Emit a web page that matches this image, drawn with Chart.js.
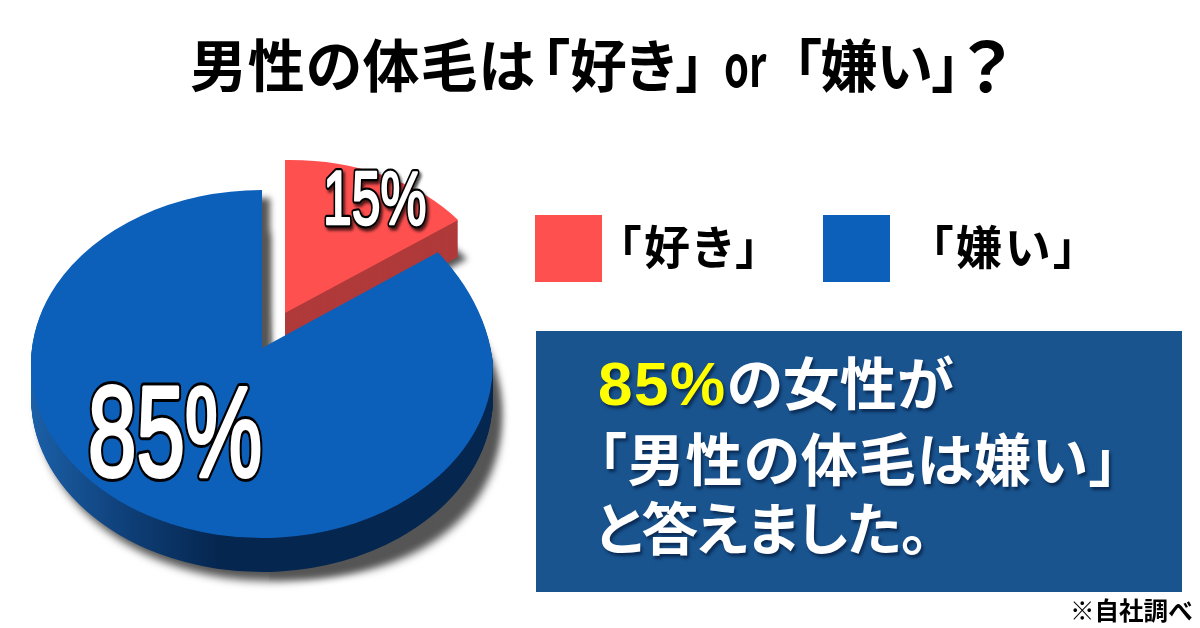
<!DOCTYPE html>
<html lang="ja">
<head>
<meta charset="utf-8">
<title>男性の体毛</title>
<script src="https://cdn.jsdelivr.net/npm/chart.js@4"></script>
<style>
  html, body { margin: 0; padding: 0; background: #fff; }
  #wrap { position: relative; width: 1200px; height: 628px; overflow: hidden;
          font-family: "Noto Sans CJK JP", sans-serif; font-feature-settings: "palt"; }
  #pie { position: absolute; left: 0; top: 0; }
  .t { position: absolute; white-space: nowrap; margin: 0; line-height: 1; }
  #title { left: 190px; top: 34px; font-size: 57px; font-weight: 700; color: #000; }
  #title span { display: inline-block; }
  .swatch { position: absolute; top: 215px; width: 67px; height: 67px; }
  .leg { top: 221px; font-size: 46px; font-weight: 700; color: #000; letter-spacing: 3px; }
  #panel { position: absolute; left: 536px; top: 331px; width: 646px; height: 261px; background: #19548f; }
  .line { font-size: 57px; font-weight: 700; color: #fff; text-shadow: 2px 3px 3px #0b2c55; }
  .line b { font: 700 62px "Liberation Sans", sans-serif; color: #ff0; letter-spacing: 1.5px; }
  #note { left: 1070px; top: 598px; font-size: 24.5px; font-weight: 700; color: #000; }
</style>
</head>
<body>
<div id="wrap">
  <canvas id="pie" width="1200" height="628"></canvas>
  <h1 class="t" id="title"><span style="letter-spacing:.8px">男性の体毛は</span><span style="margin-left:6px">「好き」</span><span style="margin-left:20px;margin-right:-4px;transform:scaleX(.7);transform-origin:left center">or</span><span style="margin-left:12px;letter-spacing:-1px">「嫌い」</span><span style="margin-left:4px;transform:scale(1.2);transform-origin:left center">？</span></h1>
  <div class="swatch" style="left:535px;background:#ff5050"></div>
  <div class="t leg" style="left:618px">「好き」</div>
  <div class="swatch" style="left:823px;background:#0d60ba"></div>
  <div class="t leg" style="left:930px">「嫌い」</div>
  <div id="panel"></div>
  <div class="t line" style="left:598px;top:348px"><b>85%</b>の女性が</div>
  <div class="t line" style="left:598px;top:428px;letter-spacing:1px">「男性の体毛は嫌い」</div>
  <div class="t line" style="left:595px;top:497px;letter-spacing:-1px">と答えました。</div>
  <div class="t" id="note">※自社調べ</div>
</div>
<script>
(function(){
    const labels = ['「好き」', '「嫌い」'];
    const shares = [15, 85];
    const topColors = ['#ff5050', '#0d60ba'];

    // hand-fitted transforms for the tilted look: x = a*sin + c*cos, y = b*sin - d*cos
    const redFace = { x: 285, y: 313, a: 214, b: -3.7, c: 0, d: 153 };
    const blueMain = { x: 262, y: 364, a: 231, b: 0, c: 0, d: 174 };
    const blueRight = { x: 262, y: 348, a: 231, b: 16, c: -18.7, d: 185 };
    const redDepth = 37;
    const blueDepth = 34;

    function place(ctx, arc, face, dx, dy){
        const r = arc.outerRadius;
        ctx.translate(face.x + dx, face.y + dy);
        ctx.transform(face.a / r, face.b / r, -face.c / r, face.d / r, 0, 0);
        ctx.translate(-arc.x, -arc.y);
    }

    function paint(ctx, arc, face, dx, dy, fill){
        const saved = arc.options;
        ctx.save();
        place(ctx, arc, face, dx, dy);
        arc.options = Object.assign({}, saved, { backgroundColor: fill });
        arc.draw(ctx);
        arc.options = saved;
        ctx.restore();
    }

    function drawBlue(ctx, arc, dy, fill){
        // left and bottom part
        ctx.save();
        ctx.beginPath();
        ctx.rect(0, 0, 262, 628);
        ctx.rect(262, 364 + dy, 938, 264);
        ctx.clip();
        paint(ctx, arc, blueMain, 0, dy, fill);
        ctx.restore();
        // part right of the notch
        ctx.save();
        ctx.beginPath();
        ctx.rect(262, 0, 938, 364 + dy);
        ctx.clip();
        paint(ctx, arc, blueRight, 0, dy, fill);
        ctx.restore();
    }

    function blueShadow(ctx, arc, dx, dy, blur){
        ctx.save();
        ctx.filter = 'blur(' + blur + 'px)';
        paint(ctx, arc, blueMain, dx, dy, '#555');
        ctx.restore();
        ctx.save();
        ctx.beginPath();
        ctx.rect(262 + dx, 0, 938, 628);
        ctx.clip();
        ctx.filter = 'blur(' + blur + 'px)';
        paint(ctx, arc, blueRight, dx, dy, '#555');
        ctx.restore();
    }

    function drawLabel(ctx, text, x, y, size, outer, inner, shadow){
        ctx.save();
        ctx.translate(x, y);
        ctx.scale(0.68, 1);
        ctx.font = size + 'px "Liberation Sans", sans-serif';
        ctx.lineJoin = 'round';
        ctx.lineWidth = outer;
        ctx.strokeStyle = '#000';
        if(shadow){
            ctx.shadowColor = 'rgba(0,0,0,0.7)';
            ctx.shadowBlur = 3;
            ctx.shadowOffsetX = 2;
            ctx.shadowOffsetY = 3;
        }
        ctx.strokeText(text, 0, 0);
        ctx.shadowColor = 'transparent';
        ctx.lineWidth = inner;
        ctx.strokeStyle = '#fff';
        ctx.strokeText(text, 0, 0);
        ctx.fillStyle = '#fff';
        ctx.fillText(text, 0, 0);
        ctx.restore();
    }

    const tiltedPie = {
        id: 'tiltedPie',
        beforeDatasetDraw(chart, args){
            const ctx = chart.ctx;
            const red = args.meta.data[0];
            const blue = args.meta.data[1];

            // gradient coordinates live in the arc's own space, not in page pixels
            const k = blue.outerRadius / blueMain.a;
            const side = ctx.createLinearGradient(blue.x + (30 - blueMain.x) * k, 0, blue.x + (300 - blueMain.x) * k, 0);
            side.addColorStop(0, '#1b60a8');
            side.addColorStop(0.35, '#0f4079');
            side.addColorStop(0.7, '#05264f');
            side.addColorStop(1, '#05264f');

            // shadows go first so the red slice stays clean on top of them
            blueShadow(ctx, blue, 7, blueDepth + 9, 4);
            ctx.save();
            ctx.beginPath();
            ctx.rect(262, 190, 23, 170);
            ctx.clip();
            blueShadow(ctx, blue, 8, 8, 3);
            ctx.restore();
            ctx.save();
            ctx.filter = 'blur(3px)';
            paint(ctx, red, redFace, 9, redDepth + 2, '#555');
            ctx.restore();

            for(let d = redDepth; d > 0; d--){
                paint(ctx, red, redFace, 0, d, '#b03a3a');
            }
            paint(ctx, red, redFace, 0, 0, topColors[0]);

            for(let d = blueDepth; d > 0; d--){
                drawBlue(ctx, blue, d, side);
            }
            drawBlue(ctx, blue, 0, topColors[1]);

            drawLabel(ctx, shares[0] + '%', 323, 224, 76, 7, 2.5, true);
            drawLabel(ctx, shares[1] + '%', 88, 476, 128, 10, 4, false);
            return false;
        }
    };

    new Chart(document.getElementById('pie').getContext('2d'), {
        type: 'pie',
        data: {
            labels: labels,
            datasets: [{ data: shares, backgroundColor: topColors, borderWidth: 0 }]
        },
        options: {
            responsive: false,
            animation: false,
            plugins: { legend: { display: false }, tooltip: { enabled: false } }
        },
        plugins: [tiltedPie]
    });
})();
</script>
</body>
</html>
